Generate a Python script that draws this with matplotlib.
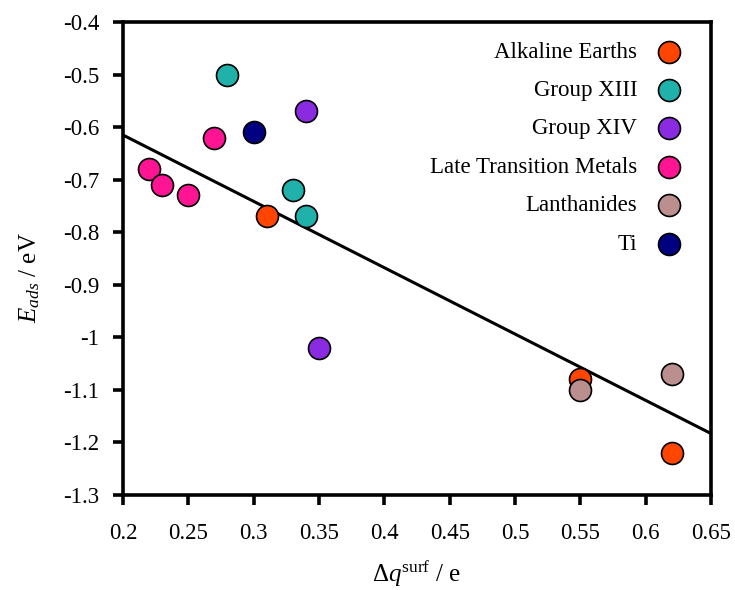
import matplotlib
matplotlib.use("Agg")
import matplotlib.pyplot as plt
from matplotlib.ticker import FuncFormatter

plt.rcParams['font.family'] = ['Liberation Serif', 'DejaVu Serif']
plt.rcParams['mathtext.fontset'] = 'custom'
plt.rcParams['mathtext.rm'] = 'Liberation Serif'
plt.rcParams['mathtext.it'] = 'Liberation Serif:italic'
plt.rcParams['axes.unicode_minus'] = False

groups = ["Alkaline Earths", "Group XIII", "Group XIV",
          "Late Transition Metals", "Lanthanides", "Ti"]
colors = ["#FF4500", "#20B2AA", "#8A2BE2", "#FF1493", "#BC8F8F", "#000080"]

alk_x = [0.31, 0.55, 0.62]
alk_y = [-0.77, -1.08, -1.22]
g13_x = [0.28, 0.33, 0.34]
g13_y = [-0.50, -0.72, -0.77]
g14_x = [0.34, 0.35]
g14_y = [-0.57, -1.02]
ltm_x = [0.27, 0.22, 0.23, 0.25]
ltm_y = [-0.62, -0.68, -0.71, -0.73]
lan_x = [0.55, 0.62]
lan_y = [-1.10, -1.07]
ti_x = [0.30]
ti_y = [-0.61]

fit_x = [0.20, 0.65]
fit_y = [-0.615, -1.183]

xticks = [0.2, 0.25, 0.3, 0.35, 0.4, 0.45, 0.5, 0.55, 0.6, 0.65]
yticks = [-1.3, -1.2, -1.1, -1.0, -0.9, -0.8, -0.7, -0.6, -0.5, -0.4]

fig = plt.figure(figsize=(7.35, 5.9), dpi=100)
ax = fig.add_axes([0.1673, 0.161, 0.8, 0.8017])

ax.plot(fit_x, fit_y, color="black", lw=2.2, zorder=2)

series = [(alk_x, alk_y), (g13_x, g13_y), (g14_x, g14_y),
          (ltm_x, ltm_y), (lan_x, lan_y), (ti_x, ti_y)]
for (xs, ys), name, c in zip(series, groups, colors):
    ax.scatter(xs, ys, s=250, color=c, edgecolor="black", linewidth=1.2,
               label=name, zorder=3)

ax.set_xlim(0.2, 0.65)
ax.set_ylim(-1.3, -0.4)
ax.set_xticks(xticks)
ax.set_yticks(yticks)
fmt = FuncFormatter(lambda v, p: "%g" % round(v, 3))
ax.xaxis.set_major_formatter(fmt)
ax.yaxis.set_major_formatter(fmt)
ax.tick_params(direction="out", length=7, width=2.6, labelsize=16.5,
               top=False, right=False)
ax.tick_params(axis="x", pad=13)
ax.tick_params(axis="y", pad=10)
for sp in ax.spines.values():
    sp.set_linewidth(2.6)

ax.set_xlabel(r"$\Delta q^{\mathrm{surf}}$ / e", fontsize=18)
ax.set_ylabel(r"$E_{ads}$ / eV", fontsize=18)
ax.xaxis.set_label_coords(0.5, -0.134)
ax.yaxis.set_label_coords(-0.138, 0.46)

leg = ax.legend(loc="upper right", frameon=False, markerfirst=False,
                fontsize=16.5, labelspacing=0.76, handletextpad=0.37,
                borderaxespad=0.45, scatterpoints=1)

fig.savefig("out.png", dpi=100)
